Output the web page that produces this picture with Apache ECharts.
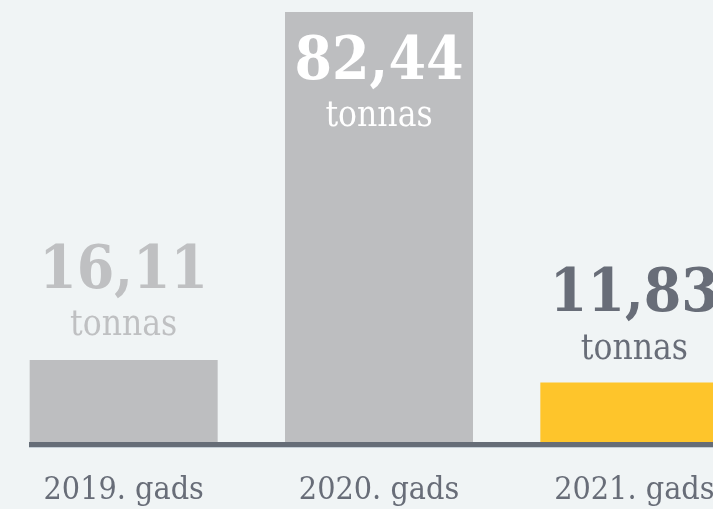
<!DOCTYPE html>
<html>
<head>
<meta charset="utf-8">
<script src="https://cdn.jsdelivr.net/npm/echarts@6/dist/echarts.min.js"></script>
<style>
  html, body { margin: 0; padding: 0; background: #f0f4f5; }
  #chart { width: 713px; height: 509px; }
</style>
</head>
<body>
<div id="chart"></div>
<script>
// Annual totals, tonnes
const years = ['2019. gads', '2020. gads', '2021. gads'];
const tonnes = [16.11, 82.44, 11.83];
const unit = 'tonnas';

const FONT = "'Roboto Slab', 'DejaVu Serif Condensed', 'DejaVu Serif', serif";
const GRAY_BAR = '#bdbec0';
const YELLOW = '#fec52b';
const DARK = '#686d78';

const fmt = v => v.toFixed(2).replace('.', ',');

function richFor(color) {
  return {
    n: { fontFamily: FONT, fontSize: 60, fontWeight: 'bold', color: color, lineHeight: 52 },
    t: { fontFamily: FONT, fontSize: 35, color: color, lineHeight: 56 }
  };
}

// per-bar styling: 2020 carries its label inside, the others above
const barStyles = [
  { color: GRAY_BAR, label: { position: 'top', distance: 6, rich: richFor('#bfc0c2') } },
  { color: GRAY_BAR, label: { position: 'insideTop', distance: 25, rich: richFor('#ffffff') } },
  { color: YELLOW, label: { position: 'top', distance: 5, rich: richFor(DARK) } }
];

const seriesData = tonnes.map((v, i) => ({
  value: v,
  itemStyle: { color: barStyles[i].color },
  label: Object.assign({ show: true }, barStyles[i].label)
}));

const chart = echarts.init(document.getElementById('chart'), null, { renderer: 'canvas' });
chart.setOption({
  backgroundColor: '#f0f4f5',
  animation: false,
  grid: { left: -4, width: 766, top: 12, bottom: 67, containLabel: false, outerBoundsMode: 'none' },
  xAxis: {
    type: 'category',
    data: years,
    axisLine: { show: false },
    axisTick: { show: false },
    axisLabel: {
      fontFamily: FONT,
      fontSize: 32,
      color: DARK,
      margin: 33,
      interval: 0
    }
  },
  yAxis: {
    type: 'value',
    min: 0.5,
    max: 82.44,
    show: false,
    splitLine: { show: false }
  },
  series: [{
    type: 'bar',
    barWidth: 188,
    data: seriesData,
    label: {
      show: true,
      formatter: p => '{n|' + fmt(p.value) + '}\n{t|' + unit + '}'
    }
  }],
  graphic: [
    { type: 'rect', left: 29, top: 442, shape: { width: 684, height: 5 }, style: { fill: '#666d77' }, z: 10 },
    { type: 'rect', left: 29, top: 447, shape: { width: 684, height: 1 }, style: { fill: '#c5ced6' }, z: 10 }
  ]
});
</script>
</body>
</html>
